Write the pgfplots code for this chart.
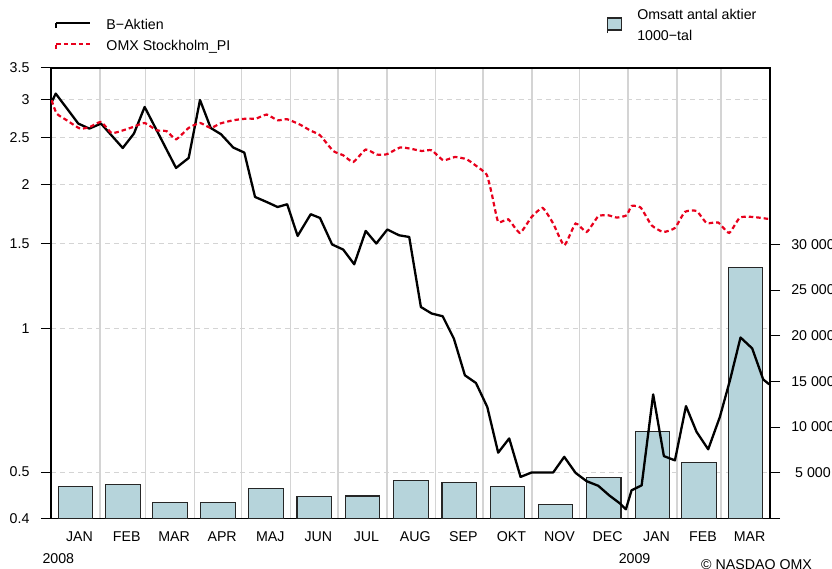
\documentclass[border=0pt]{standalone}
\usepackage{pgfplots}
\pgfplotsset{compat=1.18}
\usepackage{fontspec}
\setmainfont{Liberation Sans}
\definecolor{barfill}{RGB}{182,212,219}
\definecolor{gridc}{RGB}{212,212,212}
\definecolor{omxred}{RGB}{232,0,28}
\pgfplotstableread{
day val
0.4 2.97
3.0 3.094
17.3 2.678
24.3 2.614
31.7 2.678
45.5 2.381
52.6 2.552
59.4 2.901
79.3 2.163
87.3 2.269
94.5 3.0
101.3 2.622
107.8 2.544
115.6 2.386
122.6 2.329
129.4 1.881
136.8 1.836
143.7 1.792
149.8 1.816
156.4 1.559
164.7 1.731
170.6 1.700
178.3 1.496
185.3 1.460
192.3 1.360
199.6 1.597
206.3 1.503
213.3 1.608
220.7 1.564
227.2 1.551
234.6 1.107
241.4 1.073
248.4 1.059
255.5 0.951
262.5 0.797
269.5 0.768
276.7 0.684
283.6 0.549
290.6 0.588
297.8 0.4885
304.8 0.499
311.8 0.499
318.5 0.499
325.5 0.538
332.7 0.498
339.7 0.4785
347.1 0.468
354.0 0.447
360.8 0.430
364.6 0.418
368.2 0.458
374.6 0.469
381.9 0.727
388.7 0.540
395.7 0.529
402.7 0.687
409.4 0.607
416.8 0.558
424.2 0.652
430.6 0.778
437.3 0.956
444.7 0.907
451.7 0.781
455.5 0.763
}\baktien
\pgfplotstableread{
day val
0.4 2.996
3.6 2.810
10.0 2.721
18.4 2.614
24.7 2.635
31.7 2.699
38.5 2.559
45.8 2.593
52.2 2.635
59.4 2.686
67.0 2.593
73.4 2.581
79.3 2.483
87.3 2.622
94.5 2.686
101.3 2.622
107.2 2.678
115.6 2.721
124.1 2.743
130.0 2.743
136.8 2.797
143.7 2.721
149.8 2.734
157.9 2.665
164.2 2.593
170.6 2.531
179.0 2.347
185.3 2.299
191.7 2.226
199.6 2.363
206.6 2.307
212.9 2.310
221.3 2.386
227.7 2.374
235.1 2.347
241.4 2.355
248.8 2.244
256.2 2.280
263.6 2.255
270.0 2.180
276.3 2.095
279.5 1.912
283.6 1.668
290.0 1.689
297.4 1.582
304.8 1.708
311.8 1.784
318.5 1.655
325.5 1.490
332.7 1.655
339.7 1.589
347.1 1.714
353.4 1.722
358.8 1.703
365.1 1.722
368.2 1.801
374.0 1.787
380.9 1.641
388.3 1.589
395.7 1.620
402.0 1.750
409.4 1.758
415.8 1.659
423.1 1.663
430.1 1.582
436.9 1.703
445.3 1.708
454.9 1.692
}\omx
\pgfplotstableread{
day vol
15.5 3500
45.5 3700
75.5 1700
106 1750
136.5 3300
167 2400
197.5 2450
228.5 4100
259 3900
289.5 3500
320 1500
350.5 4450
381.5 9500
411 6150
440.5 27470
}\volume
\begin{document}
\begin{tikzpicture}[font=\fontsize{14.2}{17}\selectfont]
\useasboundingbox (0,0) rectangle (832pt,568pt);
\pgfplotsset{
  base/.style={
    scale only axis, width=719pt, height=450.4pt,
    at={(51pt,49.6pt)}, anchor=south west,
    xmin=0, xmax=456,
  },
}
% grid, frame and left axis
\begin{axis}[base, ymode=log, ymin=0.4, ymax=3.5,
  ytick={0.4,0.5,1,1.5,2,2.5,3,3.5},
  yticklabels={0.4,0.5,1,1.5,2,2.5,3,3.5},
  yminorticks=false,
  ytick pos=left, tick align=outside, major tick length=10pt,
  ytick style={black, line width=1pt},
  yticklabel style={xshift=-8pt},
  xtick={31,60,91,121,152,182,213,244,274,305,335,366,397,425},
  xticklabels={}, xtick style={draw=none},
  xmajorgrids, ymajorgrids,
  x grid style={gridc, line width=1.3pt},
  y grid style={gridc, line width=1pt, dash pattern=on 5pt off 4pt},
  x axis line style={black!70, line width=1.3pt},
  y axis line style={black, line width=1.3pt},
]
\addplot[draw=none] coordinates {(0,1)};
\end{axis}
% volume bars, right axis
\begin{axis}[base, ymin=0, ymax=49300,
  axis y line*=right, axis x line*=bottom, axis line style={draw=none},
  ytick={0,5000,10000,15000,20000,25000,30000},
  yticklabels={,5 000,10 000,15 000,20 000,25 000,30 000},
  scaled y ticks=false,
  tick align=outside, major tick length=10pt,
  ytick style={black, line width=1pt},
  yticklabel style={anchor=center, xshift=33pt},
  xtick={15.5,45.5,75.5,106,136.5,167,197.5,228.5,259,289.5,320,350.5,381.5,411,440.5},
  xticklabels={JAN,FEB,MAR,APR,MAJ,JUN,JUL,AUG,SEP,OKT,NOV,DEC,JAN,FEB,MAR},
  xtick style={draw=none},
  xticklabel style={xshift=4pt},
  legend style={at={(0.7733,1.0943)}, anchor=west, draw=none, fill=none,
    inner sep=0pt, column sep=15pt,
    cells={align=left}, nodes={inner sep=0pt},
    font=\fontsize{14.2}{20.2}\selectfont},
]
\addplot[ybar, bar width=22, bar shift=0pt, fill=barfill, draw=black!85, line width=1.1pt,
  legend image code/.code={\path (0pt,-7.5pt) -- (0pt,7.5pt);
    \path[fill=barfill, draw=black!85, line width=1.1pt] (0pt,-4.5pt) rectangle (14pt,7.5pt);}]
  table[x=day, y=vol] {\volume};
\addlegendentry{Omsatt antal aktier\\1000−tal}
\end{axis}
% lines
\begin{axis}[base, ymode=log, ymin=0.4, ymax=3.5, hide axis,
  legend style={at={(0.00556,1.1103)}, anchor=north west, draw=none, fill=none,
    inner sep=0pt, column sep=15pt, row sep=7pt,
    nodes={inner sep=0pt, text height=11pt, text depth=3pt}},
  legend cell align=left,
  legend image code/.code={\path (0pt,-2.6pt) -- (0pt,2.6pt);
    \draw[#1] (0pt,2.6pt) -- (34pt,2.6pt);},
]
\addplot[black, line width=2.3pt, line join=round] table[x=day, y=val] {\baktien};
\addlegendentry{B−Aktien}
\addplot[omxred, line width=2.2pt, dash pattern=on 4.5pt off 3pt, smooth, tension=0.3] table[x=day, y=val] {\omx};
\addlegendentry{OMX Stockholm\_PI}
\end{axis}
\node[anchor=base west, inner sep=0pt] at (42.3pt,4.7pt) {2008};
\node[anchor=base west, inner sep=0pt] at (618.6pt,4.7pt) {2009};
\node[anchor=base west, inner sep=0pt] at (701pt,-1.2pt) {© NASDAQ OMX};
\end{tikzpicture}
\end{document}
